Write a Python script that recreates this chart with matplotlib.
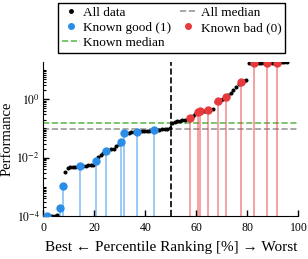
import numpy as np
import matplotlib.pyplot as plt

plt.rcParams['font.family'] = ['Liberation Serif', 'DejaVu Serif']
plt.rcParams['mathtext.fontset'] = 'stix'

# sorted performance of all samples (percentile rank = index + 0.5)
all_perf = [
    1.0e-4, 1.0e-4, 1.0e-4, 1.02e-4, 1.03e-4, 1.05e-4, 1.9e-4, 1.1e-3,
    3.2e-3, 4.3e-3, 4.6e-3, 4.8e-3, 4.9e-3, 5.0e-3, 5.1e-3, 5.2e-3,
    5.3e-3, 5.4e-3, 5.5e-3, 5.8e-3, 7.8e-3, 1.05e-2, 1.2e-2, 1.4e-2,
    1.7e-2, 1.85e-2, 1.9e-2, 2.0e-2, 2.6e-2, 3.0e-2, 3.5e-2, 6.8e-2,
    7.0e-2, 7.2e-2, 7.4e-2, 7.5e-2, 7.6e-2, 7.8e-2, 8.0e-2, 8.1e-2,
    8.3e-2, 8.4e-2, 8.6e-2, 8.7e-2, 8.9e-2, 9.0e-2, 9.2e-2, 9.4e-2,
    9.6e-2, 0.105, 0.15, 0.17, 0.18, 0.185, 0.19, 0.2, 0.21, 0.22,
    0.26, 0.31, 0.37, 0.39, 0.40, 0.41, 0.42, 0.43, 0.45, 0.8,
    0.85, 0.92, 1.0, 1.17, 1.4, 1.7, 2.1, 2.6, 3.2, 3.8, 4.2, 4.6,
    17.5, 17.6, 17.7, 17.8, 17.8, 17.9, 17.9, 18.0, 18.0, 18.0, 18.1, 18.1,
    18.1, 18.2, 18.2, 18.2,
]
good_idx = [1, 6, 7, 14, 20, 24, 30, 31, 36, 43]
bad_idx = [57, 60, 61, 64, 68, 71, 77, 82, 87, 91]

all_perf = np.array(all_perf)
all_x = np.arange(len(all_perf)) + 0.5
good_x, good_y = all_x[good_idx], all_perf[good_idx]
bad_x, bad_y = all_x[bad_idx], all_perf[bad_idx]

all_median = np.median(all_perf)
known_median = np.median(np.concatenate([good_y, bad_y]))

blue = '#2a8ee8'
red = '#e8393c'
ybot = 1e-4

fig = plt.figure(figsize=(3.08, 2.59), dpi=100)
ax = fig.add_axes([0.141, 0.166, 0.828, 0.595])

ax.vlines(good_x, ybot, good_y, color=blue, alpha=0.55, lw=1.2, zorder=1)
ax.vlines(bad_x, ybot, bad_y, color=red, alpha=0.55, lw=1.2, zorder=1)

ax.axhline(all_median, color='#999999', ls='--', lw=1.2, zorder=0)
ax.axhline(known_median, color='#66bb55', ls='--', lw=1.2, zorder=0)
ax.axvline(50, color='black', ls='--', lw=1.2, zorder=0)

ax.plot(all_x, all_perf, 'o', color='black', ms=1.9, ls='none', zorder=2)
ax.plot(good_x, good_y, 'o', color=blue, ms=5, ls='none', zorder=3)
ax.plot(bad_x, bad_y, 'o', color=red, ms=5, ls='none', zorder=3)

ax.set_yscale('log')
ax.set_xlim(0, 100)
ax.set_ylim(ybot, 19)
ax.set_yticks([1e-4, 1e-2, 1e0])
ax.set_yticklabels([r'$10^{-4}$', r'$10^{-2}$', r'$10^{0}$'])
ax.yaxis.set_minor_locator(plt.matplotlib.ticker.LogLocator(base=10, subs='all', numticks=20))
ax.yaxis.set_minor_formatter(plt.NullFormatter())
ax.set_xticks([0, 20, 40, 60, 80, 100])
ax.tick_params(direction='in', labelsize=8.5, length=4, width=1, pad=4)
ax.tick_params(axis='y', pad=2.5)
ax.tick_params(which='minor', direction='in', length=2, width=0.8)
ax.spines['top'].set_visible(False)
ax.spines['right'].set_visible(False)

ax.set_xlabel('Best \u2190 Percentile Ranking [%] \u2192 Worst', fontsize=11, labelpad=5)
ax.set_ylabel('Performance', fontsize=10.5)
ax.yaxis.set_label_coords(-0.117, 0.5)

handles = [
    plt.Line2D([], [], marker='o', color='black', ms=2.5, ls='none'),
    plt.Line2D([], [], marker='o', color=blue, ms=4, ls='none'),
    plt.Line2D([], [], color='#66bb55', ls='--', lw=1.2),
    plt.Line2D([], [], color='#999999', ls='--', lw=1.2),
    plt.Line2D([], [], marker='o', color=red, ms=4, ls='none'),
]
labels = ['All data', 'Known good (1)', 'Known median', 'All median', 'Known bad (0)']
leg = fig.legend(handles, labels, ncol=2, loc='upper center', bbox_to_anchor=(0.558, 1.015),
                 fontsize=9.5, frameon=True, fancybox=False, edgecolor='black',
                 framealpha=1, handlelength=1.3, handletextpad=0.3, labelspacing=0.2,
                 columnspacing=0.6, borderpad=0.3)
leg.get_frame().set_linewidth(1.0)

fig.savefig('out.png', dpi=100)
